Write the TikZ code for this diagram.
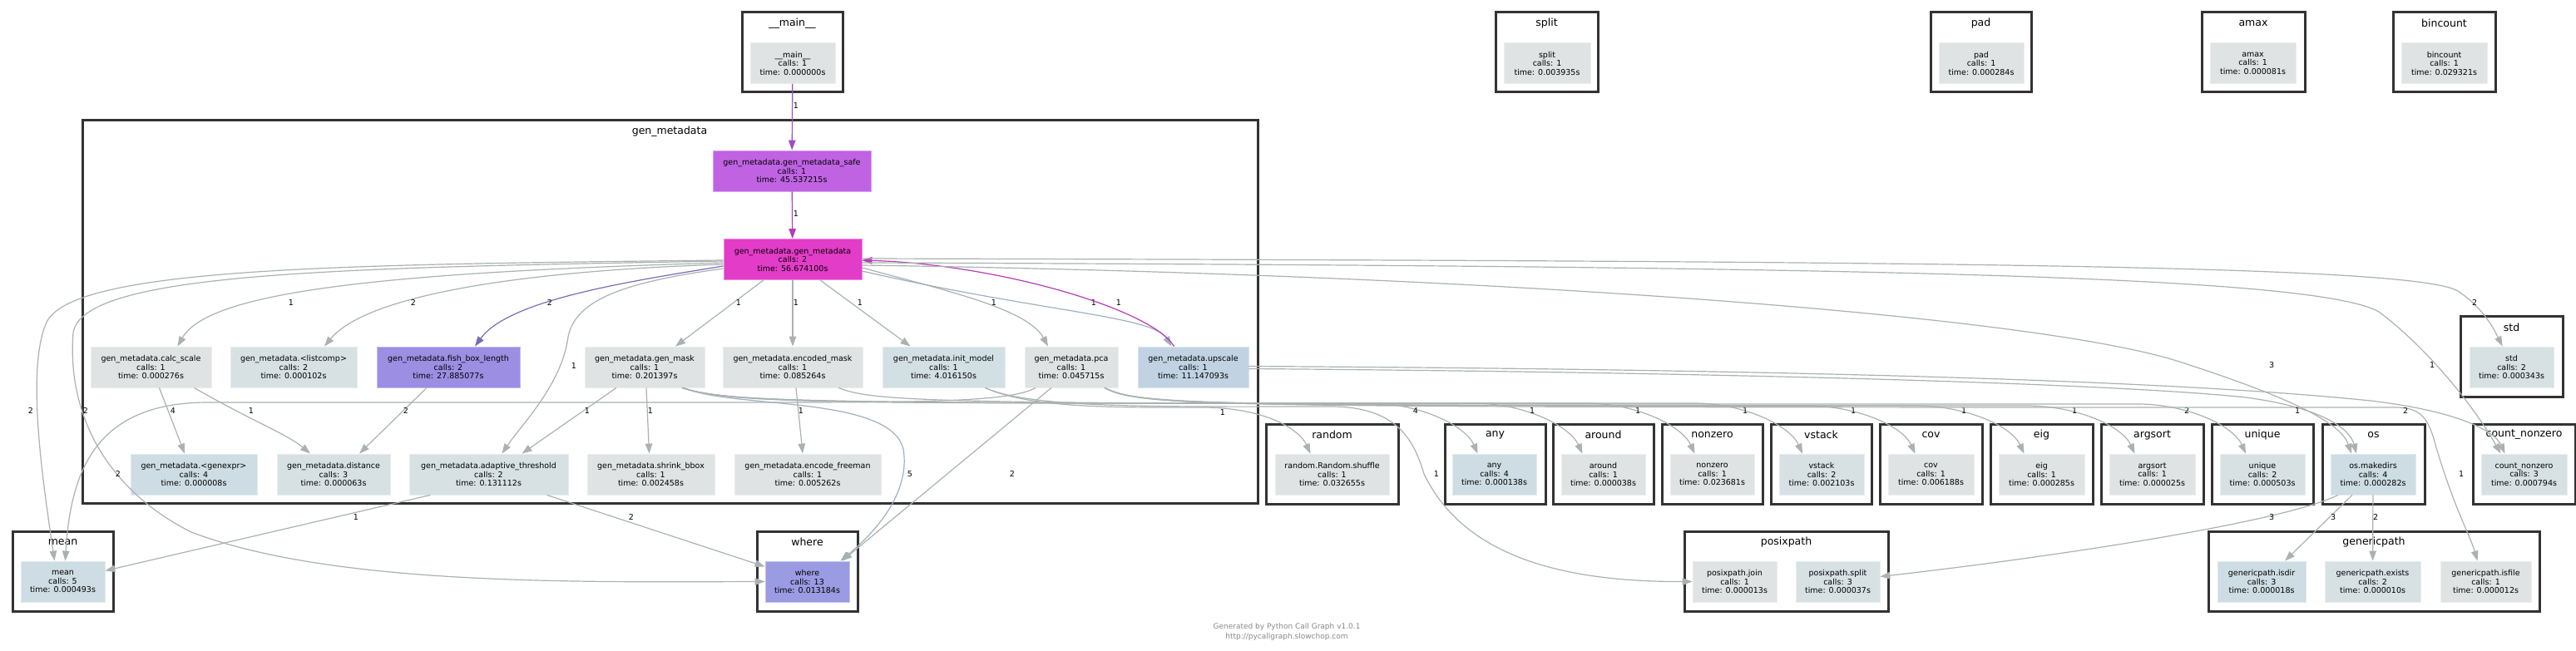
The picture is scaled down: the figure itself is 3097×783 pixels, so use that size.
\documentclass[tikz,border=0pt]{standalone}
\usepackage{fontspec}
\setmainfont{DejaVu Sans}
\usetikzlibrary{arrows.meta}

\definecolor{nodegray}{HTML}{DFE3E3}
\definecolor{nodemist}{HTML}{D7E1E3}
\definecolor{nodeblue}{HTML}{CDDDE3}
\definecolor{nodeinit}{HTML}{D3E0E3}
\definecolor{nodeup}{HTML}{C1D3E3}
\definecolor{nodefish}{HTML}{9C8EE3}
\definecolor{nodewhere}{HTML}{9B9BE3}
\definecolor{nodesafe}{HTML}{BF63E3}
\definecolor{nodehot}{HTML}{E33CC8}
\definecolor{edgegray}{HTML}{AAB1B1}
\definecolor{edgeblue}{HTML}{9FB0BE}
\definecolor{edgesafe}{HTML}{9B4FC4}
\definecolor{edgehot}{HTML}{B43CB4}
\definecolor{edgefish}{HTML}{7A6BBA}
\definecolor{clusterline}{HTML}{333333}
\definecolor{footgray}{HTML}{888888}

\begin{document}
\begin{tikzpicture}[
    x=1pt, y=-1pt,
    fn/.style={rectangle, fill=#1, draw=#1!60!white, line width=0.8pt, minimum height=49pt, inner sep=0pt, align=center, font=\fontsize{9.5}{10.5}\selectfont},
    cluster/.style={draw=clusterline, line width=3pt},
    ctitle/.style={font=\fontsize{12.5}{14}\selectfont, inner sep=0pt},
    call/.style={draw=edgegray, line width=1.2pt, -{Triangle[length=12pt, width=8.5pt]}},
    lbl/.style={font=\fontsize{9.5}{10.5}\selectfont, inner sep=0pt},
    foot/.style={font=\fontsize{9}{12}\selectfont, text=footgray, align=center, inner sep=0pt}
]
    \useasboundingbox (0,0) rectangle (3097,783);

    % Clusters
    \draw[cluster] (892,15) rectangle (1013,111);
    \node[ctitle] (tmain) at (952.5,28) {\_\_main\_\_};
    \draw[cluster] (99,145) rectangle (1512,605);
    \node[ctitle] (tgenmeta) at (805,158) {gen\_metadata};
    \draw[cluster] (1798,15) rectangle (1921,111);
    \node[ctitle] (tsplit) at (1859.5,28) {split};
    \draw[cluster] (2321,15) rectangle (2442,111);
    \node[ctitle] (tpad) at (2381.5,28) {pad};
    \draw[cluster] (2647,15) rectangle (2771,111);
    \node[ctitle] (tamax) at (2709,28) {amax};
    \draw[cluster] (2877,15) rectangle (3000,111);
    \node[ctitle] (tbincount) at (2938.5,28) {bincount};
    \draw[cluster] (2958,381) rectangle (3081,477);
    \node[ctitle] (tstd) at (3019.5,394) {std};
    \draw[cluster] (1522,510) rectangle (1681,606);
    \node[ctitle] (trandom) at (1601.5,523) {random};
    \draw[cluster] (1737,510) rectangle (1858,606);
    \node[ctitle] (tany) at (1797.5,523) {any};
    \draw[cluster] (1867,510) rectangle (1988,606);
    \node[ctitle] (taround) at (1927.5,523) {around};
    \draw[cluster] (1998,510) rectangle (2119,606);
    \node[ctitle] (tnonzero) at (2058.5,523) {nonzero};
    \draw[cluster] (2129,510) rectangle (2250,606);
    \node[ctitle] (tvstack) at (2189.5,523) {vstack};
    \draw[cluster] (2260,510) rectangle (2383,606);
    \node[ctitle] (tcov) at (2321.5,523) {cov};
    \draw[cluster] (2393,510) rectangle (2516,606);
    \node[ctitle] (teig) at (2454.5,523) {eig};
    \draw[cluster] (2526,510) rectangle (2649,606);
    \node[ctitle] (targsort) at (2587.5,523) {argsort};
    \draw[cluster] (2659,510) rectangle (2781,606);
    \node[ctitle] (tunique) at (2720,523) {unique};
    \draw[cluster] (2792,510) rectangle (2915,606);
    \node[ctitle] (tos) at (2853.5,523) {os};
    \draw[cluster] (2973,510) rectangle (3096,606);
    \node[ctitle] (tcountnz) at (3034.5,523) {count\_nonzero};
    \draw[cluster] (15,639) rectangle (136,735);
    \node[ctitle] (tmean) at (75.5,652) {mean};
    \draw[cluster] (910,639) rectangle (1031,735);
    \node[ctitle] (twhere) at (970.5,652) {where};
    \draw[cluster] (2025,639) rectangle (2270,735);
    \node[ctitle] (tposix) at (2147.5,652) {posixpath};
    \draw[cluster] (2655,639) rectangle (3053,735);
    \node[ctitle] (tgeneric) at (2854,652) {genericpath};

    % Nodes
    \node[fn=nodegray, minimum width=102pt] (main) at (953,76) {\_\_main\_\_\\calls: 1\\time: 0.000000s};
    \node[fn=nodegray, minimum width=104pt] (splitfn) at (1860,76) {split\\calls: 1\\time: 0.003935s};
    \node[fn=nodegray, minimum width=102pt] (pad) at (2382,76) {pad\\calls: 1\\time: 0.000284s};
    \node[fn=nodegray, minimum width=103pt] (amax) at (2708.5,76) {amax\\calls: 1\\time: 0.000081s};
    \node[fn=nodegray, minimum width=103pt] (bincount) at (2938.5,76) {bincount\\calls: 1\\time: 0.029321s};
    \node[fn=nodesafe, minimum width=190pt] (safe) at (952,205.5) {gen\_metadata.gen\_metadata\_safe\\calls: 1\\time: 45.537215s};
    \node[fn=nodehot, minimum width=166pt] (genmeta) at (953,312) {gen\_metadata.gen\_metadata\\calls: 2\\time: 56.674100s};
    \node[fn=nodegray, minimum width=145pt] (calc) at (181.5,441.5) {gen\_metadata.calc\_scale\\calls: 1\\time: 0.000276s};
    \node[fn=nodemist, minimum width=152pt] (listcomp) at (353,441.5) {gen\_metadata.<listcomp>\\calls: 2\\time: 0.000102s};
    \node[fn=nodefish, minimum width=172pt] (fish) at (539,441.5) {gen\_metadata.fish\_box\_length\\calls: 2\\time: 27.885077s};
    \node[fn=nodegray, minimum width=144pt] (genmask) at (775,441.5) {gen\_metadata.gen\_mask\\calls: 1\\time: 0.201397s};
    \node[fn=nodegray, minimum width=168pt] (encmask) at (953,441.5) {gen\_metadata.encoded\_mask\\calls: 1\\time: 0.085264s};
    \node[fn=nodeinit, minimum width=147pt] (initmodel) at (1134.5,441.5) {gen\_metadata.init\_model\\calls: 1\\time: 4.016150s};
    \node[fn=nodegray, minimum width=112pt] (pca) at (1288,441.5) {gen\_metadata.pca\\calls: 1\\time: 0.045715s};
    \node[fn=nodeup, minimum width=133pt] (upscale) at (1434.5,441.5) {gen\_metadata.upscale\\calls: 1\\time: 11.147093s};
    \node[fn=nodemist, minimum width=101pt] (std) at (3019.5,441.5) {std\\calls: 2\\time: 0.000343s};
    \node[fn=nodeblue, minimum width=152pt] (genexpr) at (233,570.5) {gen\_metadata.<genexpr>\\calls: 4\\time: 0.000008s};
    \node[fn=nodemist, minimum width=136pt] (distance) at (401,570.5) {gen\_metadata.distance\\calls: 3\\time: 0.000063s};
    \node[fn=nodemist, minimum width=191pt] (adaptive) at (587.5,570.5) {gen\_metadata.adaptive\_threshold\\calls: 2\\time: 0.131112s};
    \node[fn=nodegray, minimum width=153pt] (shrink) at (782.5,570.5) {gen\_metadata.shrink\_bbox\\calls: 1\\time: 0.002458s};
    \node[fn=nodegray, minimum width=176pt] (freeman) at (971,570.5) {gen\_metadata.encode\_freeman\\calls: 1\\time: 0.005262s};
    \node[fn=nodegray, minimum width=137pt] (shuffle) at (1601.5,570.5) {random.Random.shuffle\\calls: 1\\time: 0.032655s};
    \node[fn=nodeblue, minimum width=101pt] (any) at (1796.5,570.5) {any\\calls: 4\\time: 0.000138s};
    \node[fn=nodegray, minimum width=101pt] (around) at (1927.5,570.5) {around\\calls: 1\\time: 0.000038s};
    \node[fn=nodegray, minimum width=101pt] (nonzero) at (2058.5,570.5) {nonzero\\calls: 1\\time: 0.023681s};
    \node[fn=nodemist, minimum width=102pt] (vstack) at (2190,570.5) {vstack\\calls: 2\\time: 0.002103s};
    \node[fn=nodegray, minimum width=103pt] (cov) at (2321.5,570.5) {cov\\calls: 1\\time: 0.006188s};
    \node[fn=nodegray, minimum width=103pt] (eig) at (2454.5,570.5) {eig\\calls: 1\\time: 0.000285s};
    \node[fn=nodegray, minimum width=103pt] (argsort) at (2587.5,570.5) {argsort\\calls: 1\\time: 0.000025s};
    \node[fn=nodemist, minimum width=102pt] (unique) at (2720,570.5) {unique\\calls: 2\\time: 0.000503s};
    \node[fn=nodeblue, minimum width=102pt] (makedirs) at (2853,570.5) {os.makedirs\\calls: 4\\time: 0.000282s};
    \node[fn=nodemist, minimum width=103pt] (countnz) at (3034.5,570.5) {count\_nonzero\\calls: 3\\time: 0.000794s};
    \node[fn=nodeblue, minimum width=101pt] (mean) at (75.5,699.5) {mean\\calls: 5\\time: 0.000493s};
    \node[fn=nodewhere, minimum width=101pt] (where) at (970.5,699.5) {where\\calls: 13\\time: 0.013184s};
    \node[fn=nodegray, minimum width=101pt] (join) at (2085.5,699.5) {posixpath.join\\calls: 1\\time: 0.000013s};
    \node[fn=nodemist, minimum width=101pt] (psplit) at (2209.5,699.5) {posixpath.split\\calls: 3\\time: 0.000037s};
    \node[fn=nodeblue, minimum width=106pt] (isdir) at (2719,699.5) {genericpath.isdir\\calls: 3\\time: 0.000018s};
    \node[fn=nodemist, minimum width=115pt] (exists) at (2852.5,699.5) {genericpath.exists\\calls: 2\\time: 0.000010s};
    \node[fn=nodegray, minimum width=109pt] (isfile) at (2988.5,699.5) {genericpath.isfile\\calls: 1\\time: 0.000012s};

    \node[foot] (credit) at (1547,760) {Generated by Python Call Graph v1.0.1\\http://pycallgraph.slowchop.com};

    % Arrows: entry chain
    \draw[call, draw=edgesafe] (main) -- (safe) node[lbl] at (957,127) {1};
    \draw[call, draw=edgehot] (safe) -- (genmeta) node[lbl] at (957,257) {1};

    % Arrows: gen_metadata to its helpers
    \draw[call] ([yshift=-4pt]genmeta.west) .. controls (450,328) and (250,352) .. ([xshift=32pt]calc.north) node[lbl] at (350,364) {1};
    \draw[call] ([yshift=-6pt]genmeta.west) .. controls (620,326) and (440,356) .. ([xshift=37pt]listcomp.north) node[lbl] at (497,364) {2};
    \draw[call, draw=edgefish] ([yshift=-8pt]genmeta.west) .. controls (760,338) and (612,360) .. ([xshift=32pt]fish.north) node[lbl] at (661,364) {2};
    \draw[call] ([yshift=-11pt]genmeta.west) .. controls (745,340) and (692,362) .. (683,405) .. controls (676,462) and (626,512) .. ([xshift=16pt]adaptive.north) node[lbl] at (690,440) {1};
    \draw[call] ([xshift=-35pt]genmeta.south) -- ([xshift=37pt]genmask.north) node[lbl] at (888,364) {1};
    \draw[call] (genmeta) -- (encmask) node[lbl] at (957,364) {1};
    \draw[call] ([xshift=33pt]genmeta.south) -- ([xshift=-40pt]initmodel.north) node[lbl] at (1034,364) {1};
    \draw[call] ([yshift=-10pt]genmeta.east) .. controls (1140,350) and (1236,372) .. ([xshift=-28pt]pca.north) node[lbl] at (1195,364) {1};
    \draw[call, draw=edgeblue] ([yshift=-14pt]genmeta.east) .. controls (1250,375) and (1386,380) .. ([xshift=-26pt]upscale.north) node[lbl] at (1315,364) {1};
    \draw[call, draw=edgehot] ([xshift=-23pt]upscale.north) .. controls (1385,372) and (1200,318) .. ([yshift=-1pt]genmeta.east) node[lbl] at (1345,364) {1};

    % Arrows: long curves to mean and where
    \draw[call] ([yshift=-1pt]genmeta.west) .. controls (400,318) and (80,322) .. (55,390) .. controls (30,450) and (55,600) .. ([xshift=-10pt]mean.north) node[lbl] at (37,494) {2};
    \draw[call] ([yshift=-2pt]genmeta.west) .. controls (400,322) and (100,328) .. (88,400) .. controls (80,500) and (130,590) .. (230,640) .. controls (400,705) and (700,700) .. (where.west) node[lbl] at (103,494) {2};
    \draw[call] ([xshift=-43pt]pca.south) .. controls (1215,484) and (1100,484) .. (900,484) -- (250,484) .. controls (120,484) and (85,560) .. ([xshift=3pt]mean.north) node[lbl] at (142,570) {2};
    \draw[call] ([xshift=-70pt]adaptive.south) -- ([yshift=13pt]mean.east) node[lbl] at (428,622) {1};
    \draw[call] ([xshift=70pt]adaptive.south) -- ([yshift=18pt]where.west) node[lbl] at (759,622) {2};
    \draw[call, draw=edgeblue] ([xshift=47pt]genmask.south) .. controls (880,492) and (1070,475) .. (1086,540) .. controls (1096,600) and (1040,650) .. ([xshift=40pt]where.north) node[lbl] at (1094,570) {5};
    \draw[call] ([xshift=-24pt]pca.south) -- ([xshift=42pt]where.north) node[lbl] at (1217,570) {2};

    % Arrows: inside the module, second row
    \draw[call] ([xshift=10pt]calc.south) -- ([xshift=-11pt]genexpr.north) node[lbl] at (208,494) {4};
    \draw[call] ([xshift=52pt]calc.south) .. controls (300,505) and (345,522) .. ([xshift=-28pt]distance.north) node[lbl] at (302,494) {1};
    \draw[call] ([xshift=-26pt]fish.south) -- ([xshift=31pt]distance.north) node[lbl] at (488,494) {2};
    \draw[call] ([xshift=-34pt]genmask.south) -- ([xshift=40pt]adaptive.north) node[lbl] at (706,494) {1};
    \draw[call] ([xshift=2pt]genmask.south) -- ([xshift=-2pt]shrink.north) node[lbl] at (782,494) {1};
    \draw[call] ([xshift=4pt]encmask.south) -- ([xshift=-6pt]freeman.north) node[lbl] at (963,494) {1};

    % Arrows: library calls along the bundle
    \draw[call] ([xshift=50pt]initmodel.south) .. controls (1240,492) and (1350,490) .. (1445,490) .. controls (1520,490) and (1562,516) .. ([xshift=-26pt]shuffle.north) node[lbl] at (1470,496) {1};
    \draw[call] ([xshift=50pt]initmodel.south) .. controls (1240,492) and (1400,489) .. (1600,489) .. controls (1680,489) and (1700,530) .. (1712,570) .. controls (1760,670) and (1880,700) .. (join.west) node[lbl] at (1727,570) {1};
    \draw[call] ([xshift=45pt]genmask.south) .. controls (880,486) and (1000,485) .. (1647,485) .. controls (1707,485) and (1762,512) .. ([xshift=-20pt]any.north) node[lbl] at (1702,494) {4};
    \draw[call] ([xshift=45pt]genmask.south) .. controls (880,486) and (1000,485) .. (1772,485) .. controls (1832,485) and (1887,512) .. ([xshift=-25pt]around.north) node[lbl] at (1842,494) {1};
    \draw[call] ([xshift=45pt]genmask.south) .. controls (880,486) and (1000,485) .. (1907,485) .. controls (1967,485) and (2022,512) .. ([xshift=-21pt]nonzero.north) node[lbl] at (1969,494) {1};
    \draw[call] ([xshift=45pt]genmask.south) .. controls (880,486) and (1000,485) .. (2037,485) .. controls (2097,485) and (2152,512) .. ([xshift=-23pt]vstack.north) node[lbl] at (2098,494) {1};
    \draw[call] ([xshift=40pt]pca.south) .. controls (1370,488) and (1450,488) .. (2172,488) .. controls (2232,488) and (2287,512) .. ([xshift=-19pt]cov.north) node[lbl] at (2228,494) {1};
    \draw[call] ([xshift=40pt]pca.south) .. controls (1370,488) and (1450,488) .. (2303,488) .. controls (2363,488) and (2418,512) .. ([xshift=-21pt]eig.north) node[lbl] at (2361,494) {1};
    \draw[call] ([xshift=40pt]pca.south) .. controls (1370,488) and (1450,488) .. (2436,488) .. controls (2496,488) and (2551,512) .. ([xshift=-21pt]argsort.north) node[lbl] at (2494,494) {1};
    \draw[call] ([xshift=55pt]encmask.south) .. controls (1060,487) and (1150,486) .. (2570,486) .. controls (2630,486) and (2685,512) .. ([xshift=-20pt]unique.north) node[lbl] at (2629,494) {2};
    \draw[call] ([xshift=40pt]pca.south) .. controls (1370,490) and (1450,490) .. (2880,490) .. controls (2912,490) and (2920,505) .. (2928,535) .. controls (2950,610) and (2970,645) .. ([xshift=-10pt]isfile.north) node[lbl] at (2959,570) {1};
    \draw[call] ([yshift=-2pt]upscale.east) .. controls (2100,448) and (2550,462) .. (2700,478) .. controls (2790,490) and (2825,515) .. ([xshift=-20pt]makedirs.north) node[lbl] at (2762,494) {1};
    \draw[call] ([yshift=1pt]upscale.east) .. controls (2100,444) and (2600,456) .. (2850,482) .. controls (2960,495) and (3000,520) .. ([xshift=-23pt]countnz.north) node[lbl] at (2892,494) {2};

    % Arrows: long curves to the right
    \draw[call] ([yshift=1pt]genmeta.east) .. controls (2300,314) and (2900,318) .. (2955,350) .. controls (2985,370) and (2998,395) .. ([xshift=-11pt]std.north) node[lbl] at (2975,364) {2};
    \draw[call] ([yshift=-4pt]genmeta.east) .. controls (2200,320) and (2780,330) .. (2860,375) .. controls (2920,420) and (2975,490) .. ([xshift=-28pt]countnz.north) node[lbl] at (2924,439) {1};
    \draw[call] ([yshift=-7pt]genmeta.east) .. controls (1800,330) and (2450,380) .. (2620,435) .. controls (2760,480) and (2815,510) .. ([xshift=-26pt]makedirs.north) node[lbl] at (2731,439) {3};

    % Arrows: os into posixpath and genericpath
    \draw[call] ([xshift=-42pt]makedirs.south) .. controls (2740,630) and (2450,672) .. ([yshift=6pt]psplit.east) node[lbl] at (2731,622) {3};
    \draw[call] ([xshift=-25pt]makedirs.south) -- ([xshift=28pt]isdir.north) node[lbl] at (2805,622) {3};
    \draw[call] (makedirs) -- (exists) node[lbl] at (2856,622) {2};
\end{tikzpicture}
\end{document}
